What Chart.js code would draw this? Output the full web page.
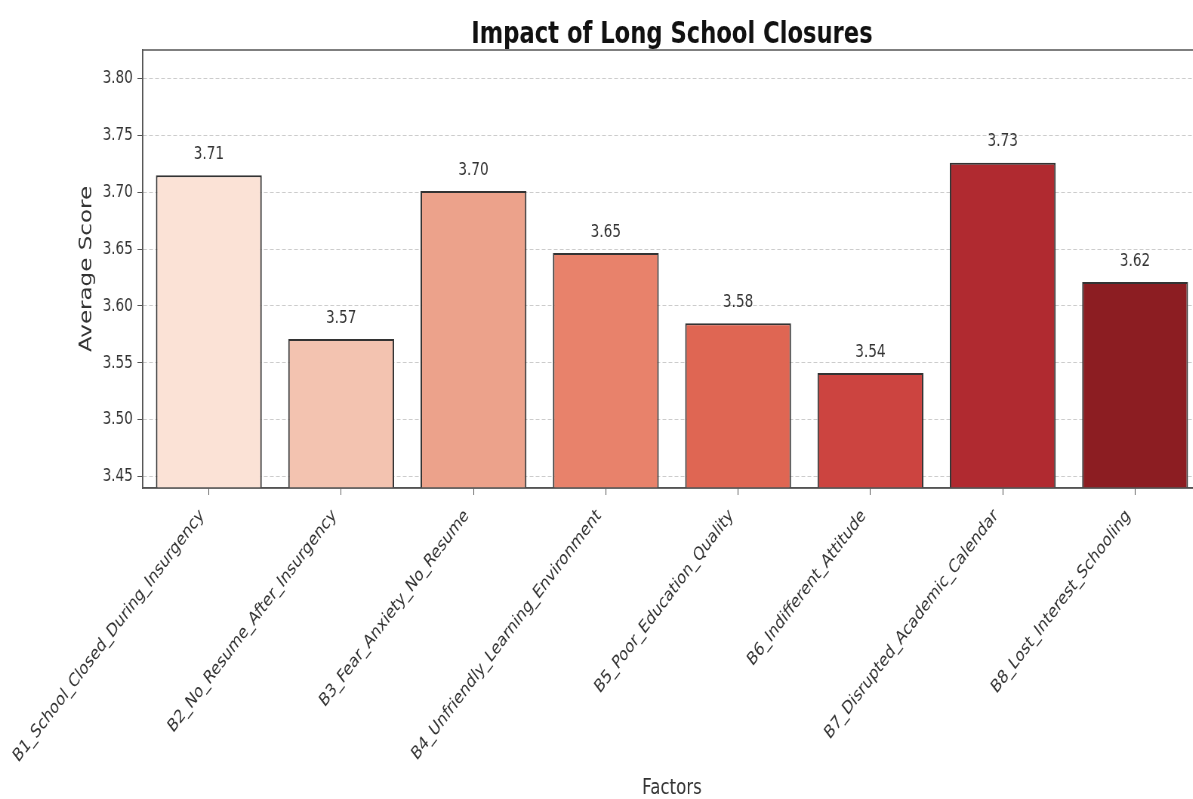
<!DOCTYPE html>
<html>
<head>
<meta charset="utf-8">
<title>Impact of Long School Closures</title>
<script src="https://cdn.jsdelivr.net/npm/chart.js@4/dist/chart.umd.min.js"></script>
<style>
    html, body { margin: 0; padding: 0; background: #fff; overflow: hidden; }
    #outer { width: 1193px; height: 799px; overflow: hidden; }
    /* the reference picture is squeezed horizontally, so draw wide and squeeze */
    #wrap { width: 1600px; height: 799px; transform: scaleX(0.755); transform-origin: 0 0; }
</style>
</head>
<body>
<div id="outer"><div id="wrap"><canvas id="myChart" width="1600" height="799"></canvas></div></div>
<script>
// Chart data
const factors = [
    'B1_School_Closed_During_Insurgency',
    'B2_No_Resume_After_Insurgency',
    'B3_Fear_Anxiety_No_Resume',
    'B4_Unfriendly_Learning_Environment',
    'B5_Poor_Education_Quality',
    'B6_Indifferent_Attitude',
    'B7_Disrupted_Academic_Calendar',
    'B8_Lost_Interest_Schooling'
];
const averageScores = [3.7148, 3.571, 3.701, 3.6465, 3.5849, 3.541, 3.726, 3.621];
const yTicks = [3.45, 3.50, 3.55, 3.60, 3.65, 3.70, 3.75, 3.80];
const yMin = 3.44;
const yMax = 3.825;

// Reds palette, light to dark
const barColors = ['#fbe2d6', '#f3c3b0', '#eca28b', '#e8826b', '#df6653', '#cc4440', '#b02a30', '#8c1d22'];

const FONT = "'DejaVu Sans', 'Liberation Sans', sans-serif";

// Plugin to draw the title, the frame and the value labels
const extrasPlugin = {
    id: 'extras',
    afterDatasetsDraw(chart) {
        const ctx = chart.ctx;
        const meta = chart.getDatasetMeta(0);
        ctx.save();
        ctx.font = '18px ' + FONT;
        ctx.fillStyle = '#333';
        ctx.textAlign = 'center';
        ctx.textBaseline = 'middle';
        meta.data.forEach((bar, i) => {
            ctx.fillText(averageScores[i].toFixed(2), bar.x, bar.y - 21);
        });
        ctx.restore();
    },
    afterDraw(chart) {
        const ctx = chart.ctx;
        const area = chart.chartArea;
        ctx.save();
        ctx.strokeStyle = '#555';
        ctx.lineWidth = 1.5;
        ctx.strokeRect(area.left, area.top, area.right - area.left, area.bottom - area.top);
        ctx.font = 'bold 30px ' + FONT;
        ctx.fillStyle = '#111';
        ctx.textAlign = 'center';
        ctx.textBaseline = 'middle';
        ctx.fillText('Impact of Long School Closures', (area.left + area.right) / 2, 35);
        ctx.restore();
    }
};

// Function to create the bar chart
function createChart() {
    const ctx = document.getElementById('myChart').getContext('2d');
    return new Chart(ctx, {
        type: 'bar',
        data: {
            labels: factors,
            datasets: [{
                label: 'Average Score',
                data: averageScores,
                backgroundColor: barColors,
                borderColor: '#333',
                borderWidth: 2,
                borderSkipped: false,
                categoryPercentage: 0.8,
                barPercentage: 1.0
            }]
        },
        options: {
            responsive: false,
            devicePixelRatio: 1,
            animation: false,
            layout: { padding: { top: 50, right: 9, bottom: 0, left: 0 } },
            plugins: {
                legend: { display: false },
                title: { display: false },
                tooltip: { enabled: false }
            },
            scales: {
                x: {
                    afterFit(scale) {
                        scale.height = 311;
                        // rotated labels may hang past the plot edge, let them
                        scale.paddingLeft = 0;
                        scale.paddingRight = 0;
                    },
                    grid: {
                        display: true,
                        drawOnChartArea: false,
                        offset: false,
                        tickLength: 7,
                        tickColor: '#555'
                    },
                    border: { display: true, color: '#555', width: 1.5 },
                    ticks: {
                        minRotation: 45,
                        maxRotation: 45,
                        autoSkip: false,
                        padding: 14,
                        labelOffset: -9,
                        color: '#333',
                        font: { family: FONT, size: 18.5, lineHeight: 0.6 }
                    },
                    title: {
                        display: true,
                        text: 'Factors',
                        color: '#333',
                        font: { family: FONT, size: 22, lineHeight: 1 },
                        padding: { top: 0, bottom: 0 }
                    }
                },
                y: {
                    min: yMin,
                    max: yMax,
                    z: 1,
                    afterFit(scale) { scale.width = 189; },
                    afterBuildTicks(scale) {
                        scale.ticks = yTicks.map(v => ({ value: v }));
                    },
                    grid: {
                        color: 'rgba(170, 170, 170, 0.6)',
                        lineWidth: 1,
                        tickLength: 7,
                        tickColor: '#555'
                    },
                    border: { display: true, color: '#555', width: 1.5, dash: [5, 3] },
                    ticks: {
                        padding: 6,
                        color: '#333',
                        font: { family: FONT, size: 18 },
                        callback: (value) => Number(value).toFixed(2)
                    },
                    title: {
                        display: true,
                        text: 'Average Score',
                        color: '#333',
                        font: { family: FONT, size: 23, lineHeight: 1 },
                        padding: { top: 104, bottom: 0 }
                    }
                }
            }
        },
        plugins: [extrasPlugin]
    });
}

createChart();
</script>
</body>
</html>
